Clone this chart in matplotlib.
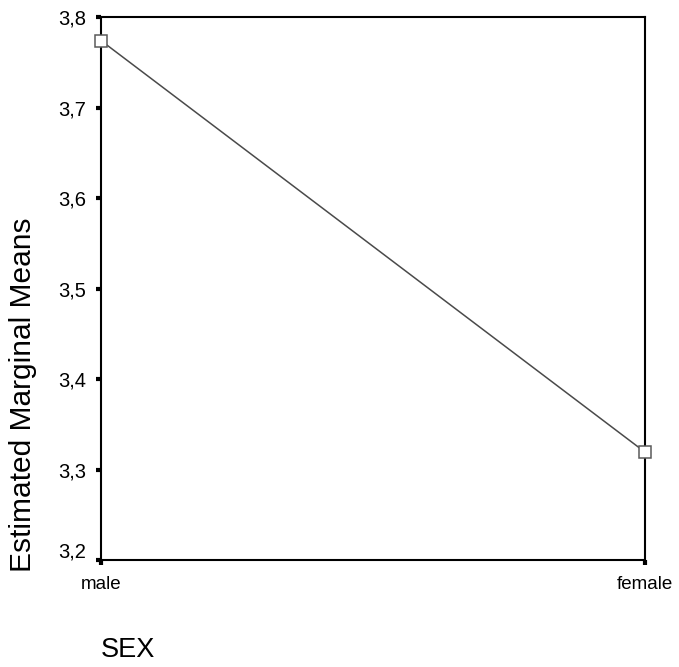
import matplotlib
matplotlib.use('Agg')
import matplotlib.pyplot as plt
import matplotlib.transforms as mtransforms

# data
sex_labels = ['male', 'female']
marginal_means = [3.774, 3.320]
y_ticks = [3.2, 3.3, 3.4, 3.5, 3.6, 3.7, 3.8]

plt.rcParams['font.family'] = ['Liberation Sans', 'DejaVu Sans']

fig = plt.figure(figsize=(6.79, 6.67), dpi=100)
ax = fig.add_axes([0.1487, 0.1597, 0.8006, 0.8148])

x = list(range(len(sex_labels)))
ax.plot(x, marginal_means, color='#4a4a4a', linewidth=1.1,
        marker='s', markersize=9, markerfacecolor='white',
        markeredgecolor='#5a5a5a', markeredgewidth=1.1, clip_on=False, zorder=3)

ax.set_xlim(0, 1)
ax.set_ylim(3.2, 3.8)
ax.set_xticks(x)
ax.set_xticklabels(sex_labels, fontsize=13.5)
ax.set_yticks(y_ticks)
ax.set_yticklabels([f'{v:.1f}'.replace('.', ',') for v in y_ticks], fontsize=14.5)

for s in ax.spines.values():
    s.set_linewidth(1.5)
    s.set_color('black')

ax.tick_params(axis='both', direction='out', length=3.5, width=3, color='black')
ax.tick_params(axis='y', pad=7)
ax.tick_params(axis='x', pad=8)

# lowest y label is nudged up to clear the "male" label
lab = ax.get_yticklabels()[0]
lab.set_transform(lab.get_transform() +
                  mtransforms.ScaledTranslation(0, 10 / 100, fig.dpi_scale_trans))

# y label sits lower than the axes centre in the original
fig.text(23 / 679, 1 - 395 / 667, 'Estimated Marginal Means', fontsize=21.5,
         rotation=90, ha='center', va='center')
fig.text(128 / 679, 1 - 650 / 667, 'SEX', fontsize=19.5, ha='center', va='center')

fig.savefig('out.png', dpi=100)
